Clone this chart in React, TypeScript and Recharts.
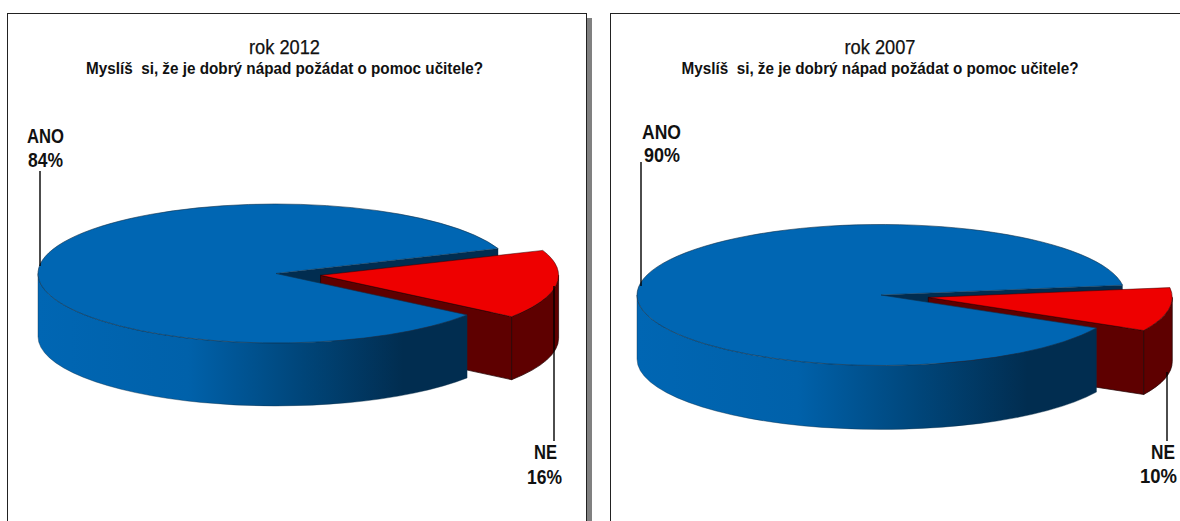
import { PieChart, Pie, Cell } from 'recharts';

const answers2012 = ['NE', 'ANO'];
const values2012 = [16, 84];
const answers2007 = ['NE', 'ANO'];
const values2007 = [10, 90];
const question = 'Myslíš  si, že je dobrý nápad požádat o pomoc učitele?';

const toRows = (names: string[], values: number[]) =>
  names.map((name, i) => ({ name, value: values[i] }));

const RED_TOP = '#ee0000';
const RED_SIDE = '#5e0000';
const BLUE_TOP = '#0066b3';
const NAVY = '#012d50';
const EDGE = '#10304a';

// flat slices with a wall underneath, recharts only hands us the angles
const makeSlice = (squash: number, depth: number, explode: number, wallId: string) => (props: any) => {
  const { cx, cy, outerRadius: rx, startAngle, endAngle, index } = props;
  const ry = rx * squash;
  const rad = (a: number) => (a * Math.PI) / 180;
  const at = (a: number, ox = 0, oy = 0) => [
    cx + ox + rx * Math.cos(rad(a)),
    cy + oy - ry * Math.sin(rad(a)),
  ];
  const arc = (to: number[], large: number, sweep: number) =>
    `A${rx} ${ry} 0 ${large} ${sweep} ${to[0]} ${to[1]}`;

  if (index === 1) {
    const s = at(startAngle);
    const e = at(endAngle);
    const left = at(180);
    const wall = `M${left[0]} ${left[1]} ${arc(e, 0, 0)} L${e[0]} ${e[1] + depth} ${arc([left[0], left[1] + depth], 0, 1)} Z`;
    const top = `M${cx} ${cy} L${s[0]} ${s[1]} ${arc(e, endAngle - startAngle > 180 ? 1 : 0, 0)} Z`;
    return (
      <g>
        <path d={wall} fill={`url(#${wallId})`} stroke={EDGE} strokeWidth={0.4} />
        <path d={top} fill={BLUE_TOP} stroke={EDGE} strokeWidth={0.6} />
      </g>
    );
  }

  const mid = rad((startAngle + endAngle) / 2);
  const ox = explode * Math.cos(mid);
  const oy = -explode * squash * Math.sin(mid);
  const ax = cx + ox;
  const ay = cy + oy;
  const u = at(endAngle);
  const s = at(startAngle, ox, oy);
  const e = at(endAngle, ox, oy);
  const right = at(0, ox, oy);
  // cut face of the big slice, seen behind the pulled out one
  const cut = `M${cx} ${cy} L${u[0]} ${u[1]} L${u[0]} ${u[1] + depth} L${cx} ${cy + depth} Z`;
  const face = `M${ax} ${ay} L${s[0]} ${s[1]} L${s[0]} ${s[1] + depth} L${ax} ${ay + depth} Z`;
  const wall = `M${s[0]} ${s[1]} ${arc(right, 0, 0)} L${right[0]} ${right[1] + depth} ${arc([s[0], s[1] + depth], 0, 1)} Z`;
  const top = `M${ax} ${ay} L${s[0]} ${s[1]} ${arc(e, 0, 0)} Z`;
  return (
    <g>
      <path d={cut} fill={NAVY} />
      <path d={face} fill={RED_SIDE} stroke="#200000" strokeWidth={0.7} />
      <path d={wall} fill={RED_SIDE} stroke="#200000" strokeWidth={0.7} />
      <path d={top} fill={RED_TOP} stroke="#300000" strokeWidth={0.5} />
    </g>
  );
};

function BoldText({ x, y, width, children }: any) {
  return (
    <text
      x={x}
      y={y}
      textLength={width}
      lengthAdjust="spacingAndGlyphs"
      fontFamily="Liberation Sans"
      fontWeight="bold"
      fontSize={19.5}
      fill="#111"
    >
      {children}
    </text>
  );
}

// lay: name x, name width, name baseline, pct x, pct width, pct baseline, line x, line y1, line y2
const makeLabel = (layouts: Record<string, number[]>) => (props: any) => {
  const { name, value } = props;
  const [nx, nw, ny, px, pw, py, lx, y1, y2] = layouts[name];
  return (
    <g key={name}>
      <line x1={lx} x2={lx} y1={y1} y2={y2} stroke="#000" strokeWidth={1.4} />
      <BoldText x={nx} y={ny} width={nw}>{name}</BoldText>
      <BoldText x={px} y={py} width={pw}>{`${value}%`}</BoldText>
    </g>
  );
};

const label2012 = makeLabel({
  ANO: [27, 37, 143, 28, 35, 167, 40, 171, 266],
  NE: [534, 23, 459, 527, 35, 484, 554, 286, 441],
});
const label2007 = makeLabel({
  ANO: [642, 39, 139, 644, 36, 162, 641, 162, 286],
  NE: [1151, 24, 459, 1140, 37, 483, 1167, 372, 441],
});

function Title({ x, y, year }: { x: number; y: number; year: string }) {
  return (
    <g fontFamily="Liberation Sans" textAnchor="middle" fill="#111">
      <text x={x} y={y} fontSize={19.5} stroke="#111" strokeWidth={0.25} textLength={71} lengthAdjust="spacingAndGlyphs">{year}</text>
      <text x={x} y={y + 20} fontSize={16.5} fontWeight="bold" textLength={397} lengthAdjust="spacingAndGlyphs" style={{ whiteSpace: 'pre' }}>{question}</text>
    </g>
  );
}

function WallFill({ id }: { id: string }) {
  return (
    <linearGradient id={id} x1="0" y1="0" x2="1" y2="0">
      <stop offset="0%" stopColor="#0066b3" />
      <stop offset="35%" stopColor="#0061aa" />
      <stop offset="60%" stopColor="#00477c" />
      <stop offset="85%" stopColor={NAVY} />
      <stop offset="100%" stopColor={NAVY} />
    </linearGradient>
  );
}

export default function App() {
  const rows2012 = toRows(answers2012, values2012);
  const rows2007 = toRows(answers2007, values2007);
  return (
    <div style={{ position: 'absolute', left: 0, top: 0, width: 1180, height: 521, overflow: 'hidden', background: '#fff' }}>
      <div style={{ position: 'absolute', left: 587, top: 18, width: 5, height: 503, background: '#808080' }} />
      <div style={{ position: 'absolute', left: 7, top: 13, width: 578, height: 520, border: '1px solid #222' }} />
      <div style={{ position: 'absolute', left: 610, top: 13, width: 600, height: 520, border: '1px solid #222' }} />
      <div style={{ position: 'absolute', left: 0, top: 0 }}>
        <PieChart width={1180} height={521} margin={{ top: 0, right: 0, bottom: 0, left: 0 }}>
          <defs>
            <WallFill id="wall2012" />
            <WallFill id="wall2007" />
          </defs>
          <Title x={284.5} y={54} year="rok 2012" />
          <Title x={880} y={54} year="rok 2007" />
          <Pie
            data={rows2012}
            dataKey="value"
            nameKey="name"
            cx={276}
            cy={273.5}
            innerRadius={0}
            outerRadius={238}
            startAngle={-36.6}
            endAngle={323.4}
            shape={makeSlice(0.292, 63, 45, 'wall2012')}
            label={label2012}
            labelLine={false}
            isAnimationActive={false}
          >
            {rows2012.map((r) => (
              <Cell key={r.name} fill={r.name === 'NE' ? RED_TOP : BLUE_TOP} />
            ))}
          </Pie>
          <Pie
            data={rows2007}
            dataKey="value"
            nameKey="name"
            cx={881}
            cy={295}
            innerRadius={0}
            outerRadius={244}
            startAngle={-28}
            endAngle={332}
            shape={makeSlice(0.289, 64, 48, 'wall2007')}
            label={label2007}
            labelLine={false}
            isAnimationActive={false}
          >
            {rows2007.map((r) => (
              <Cell key={r.name} fill={r.name === 'NE' ? RED_TOP : BLUE_TOP} />
            ))}
          </Pie>
        </PieChart>
      </div>
    </div>
  );
}
